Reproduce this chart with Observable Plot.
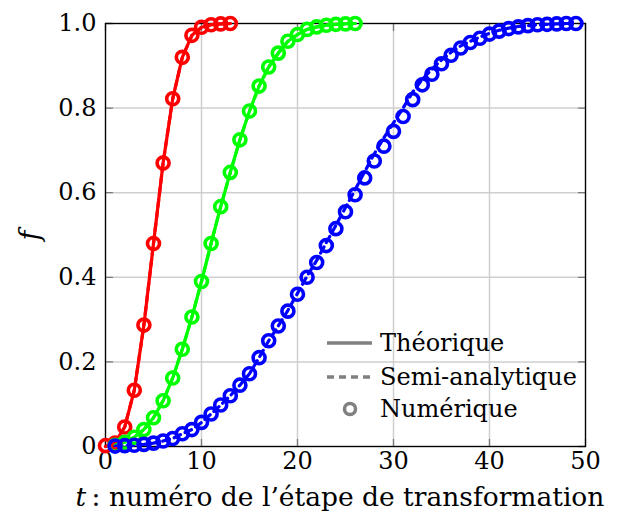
<!DOCTYPE html>
<html><head><meta charset="utf-8">
<script src="https://cdn.jsdelivr.net/npm/d3@7"></script>
<script src="https://cdn.jsdelivr.net/npm/@observablehq/plot@0.6"></script>
<style>
body{margin:0;background:#fff;}
#wrap{position:relative;width:619px;height:520px;font-family:"DejaVu Serif",serif;color:#000;}
#wrap svg{display:block;}
.xtitle{position:absolute;left:38px;width:604px;top:481px;text-align:center;font-size:26.5px;white-space:nowrap;}
.ytitle{position:absolute;left:24px;top:220px;font-size:27px;font-style:italic;transform:rotate(-90deg);transform-origin:center;}
#legend{position:absolute;left:0;top:0;}
</style></head><body><div id="wrap"></div>
<script>
// ---- data ----
const xTicks = [0, 10, 20, 30, 40, 50];
const yTicks = [0, 0.2, 0.4, 0.6, 0.8, 1.0];
const yTickLabels = ["0", "0.2", "0.4", "0.6", "0.8", "1.0"];

const redStart = 0;
const redNum = [0.002, 0.008, 0.046, 0.133, 0.287, 0.48, 0.67, 0.822, 0.92, 0.972, 0.991, 0.997, 0.999, 1.0];
const redTheo = [0.0, 0.008, 0.046, 0.133, 0.287, 0.48, 0.67, 0.822, 0.92, 0.972, 0.991, 0.997, 0.999, 1.0];

const greenStart = 1;
const greenNum = [0.003, 0.01, 0.022, 0.04, 0.068, 0.108, 0.162, 0.23, 0.306, 0.39, 0.48, 0.567, 0.648, 0.725, 0.793, 0.852, 0.897, 0.93, 0.958, 0.974, 0.986, 0.992, 0.996, 0.998, 0.999, 1.0];
const greenTheo = [0.003, 0.01, 0.022, 0.04, 0.068, 0.108, 0.162, 0.23, 0.306, 0.39, 0.48, 0.567, 0.648, 0.725, 0.793, 0.852, 0.897, 0.93, 0.958, 0.974, 0.986, 0.992, 0.996, 0.998, 0.999, 1.0];

const blueStart = 1;
const blueNum = [0.001, 0.002, 0.003, 0.005, 0.008, 0.013, 0.019, 0.03, 0.04, 0.057, 0.077, 0.098, 0.12, 0.145, 0.172, 0.21, 0.25, 0.285, 0.32, 0.36, 0.40, 0.435, 0.475, 0.515, 0.555, 0.595, 0.635, 0.675, 0.71, 0.745, 0.78, 0.82, 0.855, 0.88, 0.905, 0.925, 0.942, 0.955, 0.965, 0.975, 0.982, 0.988, 0.992, 0.995, 0.997, 0.998, 0.999, 1.0, 1.0];
const blueSemi = [0.001, 0.002, 0.003, 0.005, 0.008, 0.013, 0.019, 0.03, 0.04, 0.057, 0.077, 0.098, 0.12, 0.145, 0.172, 0.21, 0.25, 0.285, 0.322, 0.362, 0.403, 0.44, 0.482, 0.523, 0.565, 0.607, 0.65, 0.692, 0.73, 0.765, 0.8, 0.838, 0.868, 0.892, 0.914, 0.932, 0.947, 0.958, 0.968, 0.977, 0.984, 0.989, 0.993, 0.995, 0.997, 0.998, 0.999, 1.0, 1.0];

const legendLabels = ["Théorique", "Semi-analytique", "Numérique"];
const RED = "#ff0000", GREEN = "#00ff00", BLUE = "#0000ff", GRAY = "#808080";

// ---- build tables ----
const toRows = (start, arr) => arr.map((f, i) => ({t: start + i, f}));
const red = toRows(redStart, redNum), redT = toRows(redStart, redTheo);
const green = toRows(greenStart, greenNum), greenT = toRows(greenStart, greenTheo);
const blue = toRows(blueStart, blueNum), blueS = toRows(blueStart, blueSemi);

const lineShape = {draw(ctx, l) { ctx.moveTo(0, 0); ctx.lineTo(0, -l); }};
const tickOpts = {length: 7, anchor: "start", shape: lineShape, stroke: "#7a7a7a", strokeWidth: 1.3};
const dotOpts = {x: "t", y: "f", r: 6, strokeWidth: 3.6, fill: "none"};

const plot = Plot.plot({
  width: 619, height: 520,
  marginLeft: 105, marginRight: 34, marginTop: 23, marginBottom: 74,
  x: {domain: [0, 50]},
  y: {domain: [0, 1]},
  style: {fontFamily: "DejaVu Serif, serif", fontSize: "24px", color: "#000", background: "#fff", overflow: "visible"},
  marks: [
    Plot.gridX(xTicks, {stroke: "#cfcfcf", strokeOpacity: 1, strokeWidth: 1.5}),
    Plot.gridY(yTicks, {stroke: "#cfcfcf", strokeOpacity: 1, strokeWidth: 1.5}),
    Plot.vector(xTicks, {x: d => d, frameAnchor: "bottom", rotate: 0, ...tickOpts}),
    Plot.vector(xTicks, {x: d => d, frameAnchor: "top", rotate: 180, ...tickOpts}),
    Plot.vector(yTicks, {y: d => d, frameAnchor: "left", rotate: 90, ...tickOpts}),
    Plot.vector(yTicks, {y: d => d, frameAnchor: "right", rotate: 270, ...tickOpts}),
    Plot.axisX(xTicks, {tickSize: 0, tickPadding: 5, label: null, tickFormat: d => String(d), fontSize: 24}),
    Plot.axisY(yTicks, {tickSize: 0, tickPadding: 9, label: null, tickFormat: (d, i) => yTickLabels[i], fontSize: 24}),
    Plot.frame({stroke: "#000", strokeWidth: 1.3}),
    // theoretical (solid)
    Plot.line(redT, {x: "t", y: "f", stroke: RED, strokeWidth: 3.2}),
    Plot.line(greenT, {x: "t", y: "f", stroke: GREEN, strokeWidth: 3.2}),
    // semi-analytic (dashed)
    Plot.line(redT, {x: "t", y: "f", stroke: RED, strokeWidth: 3.2, strokeDasharray: "7,5"}),
    Plot.line(greenT, {x: "t", y: "f", stroke: GREEN, strokeWidth: 3.2, strokeDasharray: "7,5"}),
    Plot.line(blueS, {x: "t", y: "f", stroke: BLUE, strokeWidth: 3.2, strokeDasharray: "7,5"}),
    // numeric (circles)
    Plot.dot(red, {...dotOpts, stroke: RED}),
    Plot.dot(green, {...dotOpts, stroke: GREEN}),
    Plot.dot(blue, {...dotOpts, stroke: BLUE})
  ]
});

const wrap = document.getElementById("wrap");
wrap.appendChild(plot);

// axis titles
const xt = document.createElement("div");
xt.className = "xtitle";
xt.innerHTML = '<i>t</i>\u2009: numéro de l’étape de transformation';
wrap.appendChild(xt);
const yt = document.createElement("div");
yt.className = "ytitle";
yt.textContent = "f";
wrap.appendChild(yt);

// legend
const lg = d3.select(wrap).append("svg").attr("id", "legend").attr("width", 619).attr("height", 520);
const rows = [343, 377, 409];
lg.append("line").attr("x1", 327).attr("x2", 372).attr("y1", rows[0]).attr("y2", rows[0]).attr("stroke", GRAY).attr("stroke-width", 3.5);
lg.append("line").attr("x1", 327).attr("x2", 372).attr("y1", rows[1]).attr("y2", rows[1]).attr("stroke", GRAY).attr("stroke-width", 3.5).attr("stroke-dasharray", "7,5");
lg.append("circle").attr("cx", 350).attr("cy", rows[2]).attr("r", 5.5).attr("fill", "none").attr("stroke", GRAY).attr("stroke-width", 3.5);
legendLabels.forEach((s, i) => {
  lg.append("text").attr("x", 380).attr("y", rows[i]).attr("dy", "0.35em")
    .attr("font-family", "DejaVu Serif, serif").attr("font-size", 24).attr("fill", "#000").text(s);
});
</script>
</body></html>
